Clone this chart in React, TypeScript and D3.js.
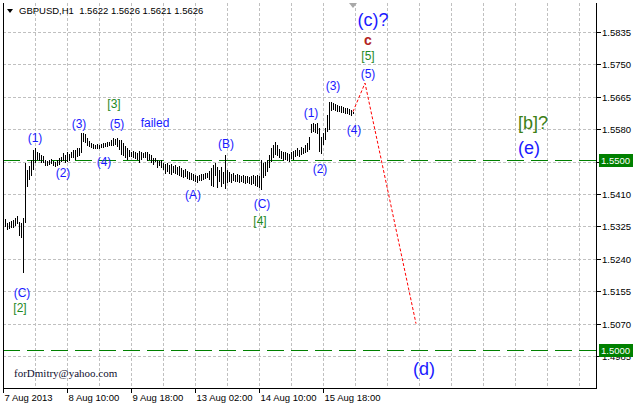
import React from "react";
import * as d3 from "d3";

const WIDTH = 636;
const HEIGHT = 405;
const FONT = "'Liberation Sans', Arial, sans-serif";

// H1 bars (index 0 = first visible bar)
const HIGH = [
  1.5345, 1.5334, 1.5337, 1.5339, 1.5342, 1.5347, 1.5352, 1.5337, 1.5334, 1.5347,
  1.5491, 1.5473, 1.5483, 1.5499, 1.5525, 1.5531, 1.552, 1.5518, 1.5512, 1.551,
  1.5499, 1.5496, 1.5499, 1.5502, 1.5496, 1.5494, 1.5499, 1.5504, 1.5507, 1.5518,
  1.5512, 1.552, 1.5515, 1.552, 1.5525, 1.5525, 1.5531, 1.5531, 1.557, 1.557,
  1.5567, 1.5557, 1.5549, 1.5544, 1.5541, 1.5539, 1.5541, 1.5539, 1.5541, 1.5544,
  1.5544, 1.5546, 1.5546, 1.5552, 1.5557, 1.5554, 1.5557, 1.5552, 1.5552, 1.5544,
  1.5536, 1.5531, 1.5525, 1.552, 1.5523, 1.552, 1.5518, 1.5523, 1.552, 1.5518,
  1.552, 1.552, 1.5515, 1.5512, 1.5504, 1.5504, 1.5499, 1.5496, 1.5499, 1.5491,
  1.5488, 1.5491, 1.5486, 1.5488, 1.5483, 1.5486, 1.5481, 1.5483, 1.5478, 1.5473,
  1.5475, 1.547, 1.5467, 1.5465, 1.5462, 1.546, 1.5457, 1.546, 1.5462, 1.5462,
  1.5465, 1.5465, 1.547, 1.5478, 1.5486, 1.5491, 1.5481, 1.5473, 1.5481, 1.5467,
  1.5512, 1.5473, 1.5467, 1.5462, 1.5465, 1.546, 1.5462, 1.546, 1.5457, 1.546,
  1.5457, 1.5457, 1.5454, 1.5457, 1.546, 1.5457, 1.546, 1.5457, 1.5499, 1.5491,
  1.5494, 1.5499, 1.5512, 1.5531, 1.5539, 1.5546, 1.5539, 1.5528, 1.5523, 1.552,
  1.552, 1.5518, 1.5515, 1.552, 1.5523, 1.5525, 1.5531, 1.5525, 1.5533, 1.5531,
  1.5539, 1.5544, 1.556, 1.5594, 1.5596, 1.5594, 1.5596, 1.5583, 1.556, 1.557,
  1.5583, 1.5617, 1.5651, 1.5651, 1.5649, 1.5646, 1.5644, 1.5641, 1.5641, 1.5638,
  1.5636, 1.5636, 1.5633, 1.563, 1.5626,
];
const LOW = [
  1.5324, 1.5316, 1.5318, 1.5321, 1.5321, 1.5326, 1.5331, 1.53, 1.5295, 1.5203,
  1.5334, 1.5428, 1.5447, 1.5457, 1.5473, 1.5491, 1.5499, 1.5496, 1.5491, 1.5491,
  1.5483, 1.5483, 1.5486, 1.5488, 1.5483, 1.5481, 1.5483, 1.5486, 1.5494, 1.5496,
  1.5491, 1.5494, 1.5496, 1.5504, 1.5504, 1.5499, 1.5507, 1.551, 1.5518, 1.5546,
  1.5544, 1.5536, 1.5533, 1.5531, 1.5528, 1.5528, 1.5528, 1.5528, 1.5531, 1.5531,
  1.5533, 1.5533, 1.5536, 1.5536, 1.5536, 1.5539, 1.5533, 1.5525, 1.5512, 1.551,
  1.5504, 1.5499, 1.5507, 1.5507, 1.5504, 1.5502, 1.5499, 1.5491, 1.5499, 1.5504,
  1.5504, 1.5496, 1.5499, 1.5491, 1.5486, 1.5494, 1.5478, 1.5483, 1.5478, 1.5473,
  1.5462, 1.5467, 1.5462, 1.546, 1.5465, 1.5462, 1.546, 1.5457, 1.5454, 1.5452,
  1.5454, 1.5449, 1.5447, 1.5447, 1.5444, 1.5441, 1.5439, 1.5444, 1.5444, 1.5447,
  1.5449, 1.5452, 1.5447, 1.5431, 1.5428, 1.5457, 1.5426, 1.5441, 1.5428, 1.5436,
  1.5423, 1.5439, 1.5441, 1.5439, 1.5444, 1.5441, 1.5441, 1.5439, 1.5441, 1.5439,
  1.5436, 1.5439, 1.5436, 1.5434, 1.5436, 1.5431, 1.5428, 1.5426, 1.5421, 1.5452,
  1.5457, 1.5467, 1.5478, 1.5494, 1.5504, 1.5512, 1.551, 1.5504, 1.5502, 1.5496,
  1.5499, 1.5496, 1.5494, 1.5502, 1.5499, 1.5507, 1.551, 1.5507, 1.5512, 1.5515,
  1.5518, 1.552, 1.5525, 1.557, 1.5573, 1.557, 1.5567, 1.552, 1.5515, 1.5539,
  1.5552, 1.5573, 1.5578, 1.5628, 1.563, 1.5628, 1.5625, 1.5625, 1.5623, 1.5623,
  1.562, 1.562, 1.5617, 1.5615, 1.5621,
];

const PRICE_TICKS = ["1.5835", "1.5750", "1.5665", "1.5580", "1.5495", "1.5410", "1.5325", "1.5240", "1.5155", "1.5070", "1.4985"];
const TIME_LABELS = ["7 Aug 2013", "8 Aug 10:00", "9 Aug 18:00", "13 Aug 02:00", "14 Aug 10:00", "15 Aug 18:00"];
const TIME_BARS = [-1, 31, 63, 95, 127, 159];

const LEVELS = [1.55, 1.5];
const LEVEL_TEXT = ["1.5500", "1.5000"];

// red dotted forecast path: bar index / price
const FORECAST_BARS = [174, 180, 205.5];
const FORECAST_PRICES = [1.5626, 1.5701, 1.507];

const LABELS = [
  { text: "(C)", bar: 8.5, price: 1.515, kind: "blue" },
  { text: "[2]", bar: 7.5, price: 1.5111, kind: "green" },
  { text: "(1)", bar: 15, price: 1.5557, kind: "blue" },
  { text: "(2)", bar: 29, price: 1.5465, kind: "blue" },
  { text: "(3)", bar: 37, price: 1.5594, kind: "blue" },
  { text: "(4)", bar: 49.5, price: 1.5494, kind: "blue" },
  { text: "(5)", bar: 56, price: 1.5594, kind: "blue" },
  { text: "[3]", bar: 54.5, price: 1.5646, kind: "green" },
  { text: "failed", bar: 75, price: 1.5596, kind: "blue" },
  { text: "(A)", bar: 94, price: 1.5407, kind: "blue" },
  { text: "(B)", bar: 110.5, price: 1.5541, kind: "blue" },
  { text: "(C)", bar: 128.5, price: 1.5384, kind: "blue" },
  { text: "[4]", bar: 127.5, price: 1.5339, kind: "green" },
  { text: "(1)", bar: 153, price: 1.5623, kind: "blue" },
  { text: "(2)", bar: 157.5, price: 1.5476, kind: "blue" },
  { text: "(3)", bar: 164, price: 1.5693, kind: "blue" },
  { text: "(4)", bar: 174.5, price: 1.5578, kind: "blue" },
  { text: "(5)", bar: 181.5, price: 1.5725, kind: "blue" },
  { text: "[5]", bar: 181.5, price: 1.5772, kind: "green" },
  { text: "c", bar: 181.5, price: 1.5814, kind: "brown" },
  { text: "(c)?", bar: 184, price: 1.5866, kind: "bigBlue" },
  { text: "[b]?", bar: 264, price: 1.5596, kind: "bigGreen" },
  { text: "(e)", bar: 262, price: 1.5531, kind: "bigBlue" },
  { text: "(d)", bar: 209.5, price: 1.4951, kind: "bigBlue" },
];

const LABEL_STYLE: Record<string, { size: number; color: string; weight?: string }> = {
  blue: { size: 12, color: "#1a1aff" },
  green: { size: 12, color: "#1f8a1f" },
  brown: { size: 14, color: "#b22222", weight: "bold" },
  bigBlue: { size: 18, color: "#1a1aff" },
  bigGreen: { size: 18, color: "#3d8016" },
};

const PLOT = { left: 3, right: 596, top: 3, bottom: 388 };

export default function App() {
  const xScale = d3.scaleLinear().domain([-1, 295]).range([3, 595]);
  const yScale = d3.scaleLinear().domain([1.4985, 1.5835]).range([356, 32]);
  const px = (v: number) => Math.round(v) + 0.5;

  const gridBars = d3.range(15, 296, 16);

  const forecast = d3
    .line<number>()
    .x((_, i) => xScale(FORECAST_BARS[i]))
    .y((p) => yScale(p))(FORECAST_PRICES);

  const lastX = xScale(HIGH.length - 1);

  return (
    <svg
      width={WIDTH}
      height={HEIGHT}
      style={{ position: "absolute", left: 0, top: 0, background: "#fff" }}
    >
      <rect x={0} y={0} width={WIDTH} height={HEIGHT} fill="#fff" />

      {/* grid */}
      {PRICE_TICKS.map((t) => (
        <line
          key={"h" + t}
          x1={PLOT.left}
          x2={PLOT.right}
          y1={px(yScale(+t))}
          y2={px(yScale(+t))}
          stroke="#c0c0c0"
          strokeDasharray="3,2"
          shapeRendering="crispEdges"
        />
      ))}
      {gridBars.map((b) => (
        <line
          key={"v" + b}
          x1={px(xScale(b))}
          x2={px(xScale(b))}
          y1={PLOT.top}
          y2={PLOT.bottom}
          stroke="#c0c0c0"
          strokeDasharray="3,2"
          shapeRendering="crispEdges"
        />
      ))}

      {/* horizontal levels */}
      {LEVELS.map((l) => (
        <line
          key={"l" + l}
          x1={PLOT.left}
          x2={PLOT.right}
          y1={px(yScale(l))}
          y2={px(yScale(l))}
          stroke="#008000"
          strokeDasharray="17,7"
          shapeRendering="crispEdges"
        />
      ))}

      {/* bars */}
      {HIGH.map((h, i) => {
        const x = px(xScale(i));
        const y1 = Math.round(yScale(h));
        const y2 = Math.max(Math.round(yScale(LOW[i])), y1 + 1);
        return (
          <line
            key={"b" + i}
            x1={x}
            x2={x}
            y1={y1}
            y2={y2}
            stroke="#000"
            shapeRendering="crispEdges"
          />
        );
      })}

      {/* forecast */}
      <path d={forecast ?? ""} fill="none" stroke="#ff0000" strokeDasharray="3,2" />

      {/* shift marker */}
      <polygon
        points={`${lastX - 4},${PLOT.top} ${lastX + 4},${PLOT.top} ${lastX},${PLOT.top + 5}`}
        fill="#a8a8a8"
      />

      {/* wave labels */}
      {LABELS.map((d, i) => {
        const s = LABEL_STYLE[d.kind];
        return (
          <text
            key={"t" + i}
            x={xScale(d.bar)}
            y={yScale(d.price)}
            textAnchor="middle"
            dominantBaseline="central"
            fontFamily={FONT}
            fontSize={s.size}
            fontWeight={s.weight ?? "normal"}
            fill={s.color}
          >
            {d.text}
          </text>
        );
      })}

      <text
        x={14}
        y={377}
        fontFamily="'Liberation Serif', 'Times New Roman', serif"
        fontSize={11}
        fill="#101030"
      >
        forDmitry@yahoo.com
      </text>

      {/* frame */}
      <line x1={PLOT.left + 0.5} x2={PLOT.left + 0.5} y1={PLOT.top} y2={PLOT.bottom} stroke="#000" shapeRendering="crispEdges" />
      <line x1={PLOT.right + 0.5} x2={PLOT.right + 0.5} y1={PLOT.top} y2={PLOT.bottom + 1} stroke="#000" shapeRendering="crispEdges" />
      <line x1={PLOT.left} x2={PLOT.right + 1} y1={PLOT.bottom + 0.5} y2={PLOT.bottom + 0.5} stroke="#000" shapeRendering="crispEdges" />

      {/* price axis */}
      {PRICE_TICKS.map((t) => {
        const y = px(yScale(+t));
        return (
          <g key={"p" + t}>
            <line x1={PLOT.right} x2={PLOT.right + 5} y1={y} y2={y} stroke="#000" shapeRendering="crispEdges" />
            <text
              x={PLOT.right + 6}
              y={y}
              dominantBaseline="central"
              fontFamily={FONT}
              fontSize={9.5}
              fill="#000"
            >
              {t}
            </text>
          </g>
        );
      })}
      {LEVELS.map((l, i) => {
        const y = Math.round(yScale(l));
        return (
          <g key={"lb" + l}>
            <rect x={599} y={y - 6} width={34} height={13} fill="#008000" />
            <text
              x={601}
              y={y + 0.5}
              dominantBaseline="central"
              fontFamily={FONT}
              fontSize={9.5}
              fill="#fff"
            >
              {LEVEL_TEXT[i]}
            </text>
          </g>
        );
      })}

      {/* time axis */}
      {TIME_LABELS.map((t, i) => {
        const x = px(xScale(TIME_BARS[i]));
        return (
          <g key={"x" + t}>
            <line x1={x} x2={x} y1={PLOT.bottom} y2={PLOT.bottom + 5} stroke="#000" shapeRendering="crispEdges" />
            <text x={x + 1} y={401} fontFamily={FONT} fontSize={9.5} fill="#000">
              {t}
            </text>
          </g>
        );
      })}

      {/* header */}
      <polygon points="7,9 13,9 10,13" fill="#000" />
      <text x={19} y={14} fontFamily={FONT} fontSize={9.5} fill="#000" style={{ whiteSpace: "pre" }}>
        {"GBPUSD,H1  1.5622 1.5626 1.5621 1.5626"}
      </text>
    </svg>
  );
}
